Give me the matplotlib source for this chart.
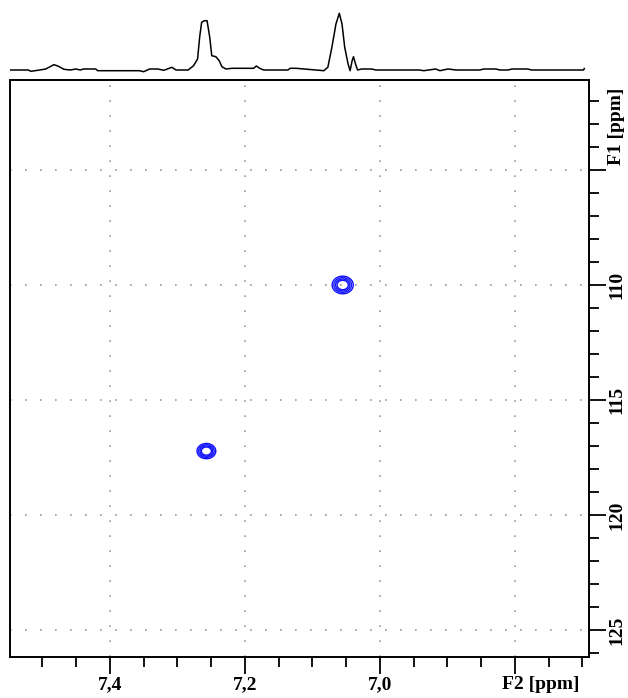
import numpy as np
import matplotlib.pyplot as plt
import matplotlib.transforms as mtrans
from matplotlib.ticker import FixedLocator, MultipleLocator

# 1D projection (F2)
proj_ppm = [7.548, 7.521, 7.517, 7.504, 7.495, 7.483, 7.477, 7.468, 7.459, 7.450,
            7.444, 7.439, 7.421, 7.418, 7.356, 7.350, 7.341, 7.329, 7.320, 7.308,
            7.302, 7.284, 7.276, 7.270, 7.267, 7.264, 7.260, 7.256, 7.252, 7.249,
            7.243, 7.238, 7.234, 7.228, 7.219, 7.187, 7.183, 7.178, 7.172, 7.136,
            7.133, 7.124, 7.083, 7.077, 7.071, 7.065, 7.060, 7.056, 7.052, 7.047,
            7.044, 7.041, 7.039, 7.036, 7.033, 7.027, 7.012, 7.006, 6.941, 6.935,
            6.917, 6.911, 6.899, 6.887, 6.852, 6.846, 6.828, 6.822, 6.810, 6.804,
            6.781, 6.775, 6.698, 6.697]
proj_int = [0, 0, -1.3, 0, 1, 5.3, 4, 0.7, 0, 1,
            0, 1, 1, -0.7, -0.7, -1.7, 1, 1, -0.3, 2.7,
            0, 0, 4.3, 11, 32.7, 47.7, 49.3, 49.3, 32.7, 14.3,
            13.3, 9.3, 3.3, 1, 1.7, 1.7, 4, 1.7, 0, 0,
            1.7, 1.7, -0.7, 2.7, 22.7, 46, 56.7, 46, 22.7, 6,
            -0.7, 9.3, 13.3, 6, 0, 1, 1, 0, 0, -0.7,
            1, -0.7, 1, 0, 0, 1, 1, 0, 0, 1,
            1, 0, 0, 1.5]

# cross peaks (F2 ppm, F1 ppm) and their widths
peak_f2 = [7.055, 7.257]
peak_f1 = [110.0, 117.22]
peak_wf2 = [0.009, 0.008]
peak_wf1 = [0.22, 0.19]
levels = [0.22, 0.35, 0.5, 0.65]

xlim = (7.548, 6.690)
ylim = (126.17, 101.09)

fig = plt.figure(figsize=(6.28, 6.98), dpi=100)
ax = fig.add_axes([10/628, 1-657/698, 579/628, 577/698])
axp = fig.add_axes([10/628, 1-75/698, 579/628, 70/698])

# 2D contour
gx = np.linspace(6.69, 7.55, 1400)
gy = np.linspace(101, 126.2, 1400)
X, Y = np.meshgrid(gx, gy)
Z = np.zeros_like(X)
for cx, cy, wx, wy in zip(peak_f2, peak_f1, peak_wf2, peak_wf1):
    Z += np.exp(-0.5*((X-cx)/wx)**2 - 0.5*((Y-cy)/wy)**2)
ax.contour(X, Y, Z, levels=levels, colors='#1010ff', linewidths=1.0)

ax.set_xlim(*xlim)
ax.set_ylim(*ylim)

xmaj = [7.4, 7.2, 7.0, 6.8]
xlab = ['7,4', '7,2', '7,0', 'F2 [ppm]']
ymaj = [105, 110, 115, 120, 125]
ylab = ['F1 [ppm]', '110', '115', '120', '125']

ax.xaxis.set_major_locator(FixedLocator(xmaj))
ax.xaxis.set_minor_locator(MultipleLocator(0.05))
ax.set_xticklabels(xlab)
ax.yaxis.set_major_locator(FixedLocator(ymaj))
ax.yaxis.set_minor_locator(MultipleLocator(1))
ax.yaxis.tick_right()
ax.set_yticklabels(ylab, rotation=90, va='center')

ax.tick_params(axis='both', which='major', direction='out', length=12, width=1.3)
ax.tick_params(axis='both', which='minor', direction='out', length=7, width=1.3)
ax.tick_params(axis='both', which='major', pad=2)
ax.tick_params(labelsize=14)
for lab in ax.get_xticklabels() + ax.get_yticklabels():
    lab.set_fontfamily('Liberation Serif')
    lab.set_fontweight('bold')

# axis name labels sit next to their tick, not centred on it
xl = ax.get_xticklabels()[-1]
xl.set_horizontalalignment('left')
xl.set_transform(xl.get_transform() + mtrans.ScaledTranslation(-0.13, 0, fig.dpi_scale_trans))
yl = ax.get_yticklabels()[0]
yl.set_verticalalignment('bottom')
yl.set_transform(yl.get_transform() + mtrans.ScaledTranslation(0, 0.05, fig.dpi_scale_trans))

ax.grid(True, which='major', color='#999999', linestyle=(0, (1, 8)), linewidth=1.2)
for sp in ax.spines.values():
    sp.set_linewidth(1.4)

# projection
axp.plot(proj_ppm, proj_int, color='black', linewidth=1.1)
axp.set_xlim(*xlim)
axp.set_ylim(-5, 65)
axp.axis('off')

fig.savefig('out.png', dpi=100)
